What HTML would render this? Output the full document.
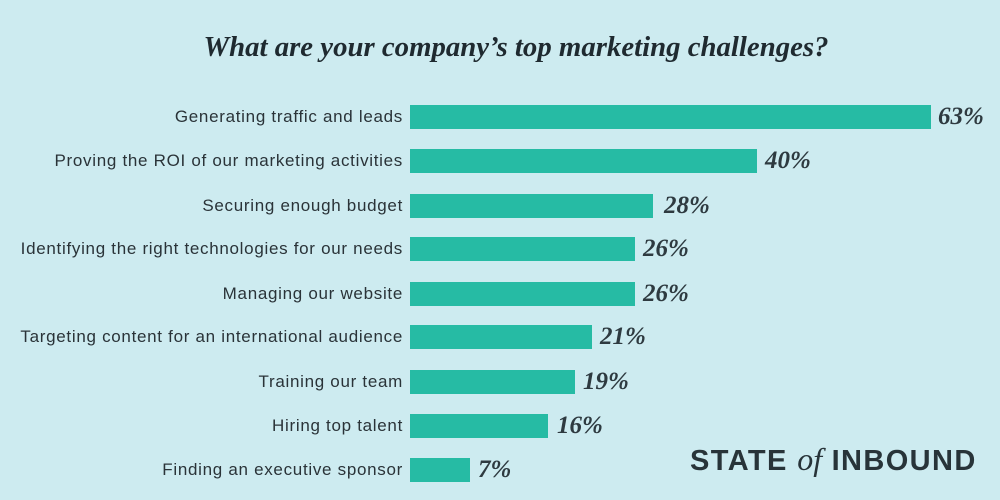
<!DOCTYPE html>
<html><head><meta charset="utf-8"><style>
body{margin:0;width:1000px;height:500px;background:#cdebf0;position:relative;overflow:hidden;font-family:"Liberation Sans",sans-serif}
.t{position:absolute;left:16px;width:1000px;top:31px;text-align:center;font:italic bold 28.8px "Liberation Serif",serif;color:#1f2a30}
.l{position:absolute;right:597px;font-size:17px;letter-spacing:0.7px;color:#2a3338;white-space:nowrap;line-height:24px}
.b{position:absolute;left:410px;height:24px;background:#26bba4}
.v{position:absolute;font:italic bold 25px "Liberation Serif",serif;color:#2e3a40;line-height:24px}
.logo{position:absolute;left:690px;top:441px;font:900 29px "Liberation Sans",sans-serif;color:#283439;letter-spacing:1.4px;white-space:nowrap}
.logo i{font:italic 32px "Liberation Serif",serif;letter-spacing:0}
</style></head><body>
<div class="t">What are your company’s top marketing challenges?</div>
<div class="l" style="top:105px">Generating traffic and leads</div><div class="b" style="top:105px;width:521px"></div><div class="v" style="top:105px;left:938px">63%</div>
<div class="l" style="top:149px">Proving the ROI of our marketing activities</div><div class="b" style="top:149px;width:347px"></div><div class="v" style="top:149px;left:765px">40%</div>
<div class="l" style="top:194px">Securing enough budget</div><div class="b" style="top:194px;width:243px"></div><div class="v" style="top:194px;left:664px">28%</div>
<div class="l" style="top:237px">Identifying the right technologies for our needs</div><div class="b" style="top:237px;width:225px"></div><div class="v" style="top:237px;left:643px">26%</div>
<div class="l" style="top:282px">Managing our website</div><div class="b" style="top:282px;width:225px"></div><div class="v" style="top:282px;left:643px">26%</div>
<div class="l" style="top:325px">Targeting content for an international audience</div><div class="b" style="top:325px;width:182px"></div><div class="v" style="top:325px;left:600px">21%</div>
<div class="l" style="top:370px">Training our team</div><div class="b" style="top:370px;width:165px"></div><div class="v" style="top:370px;left:583px">19%</div>
<div class="l" style="top:414px">Hiring top talent</div><div class="b" style="top:414px;width:138px"></div><div class="v" style="top:414px;left:557px">16%</div>
<div class="l" style="top:458px">Finding an executive sponsor</div><div class="b" style="top:458px;width:60px"></div><div class="v" style="top:458px;left:478px">7%</div>
<div class="logo">STATE <i>of</i> INBOUND</div>
</body></html>
